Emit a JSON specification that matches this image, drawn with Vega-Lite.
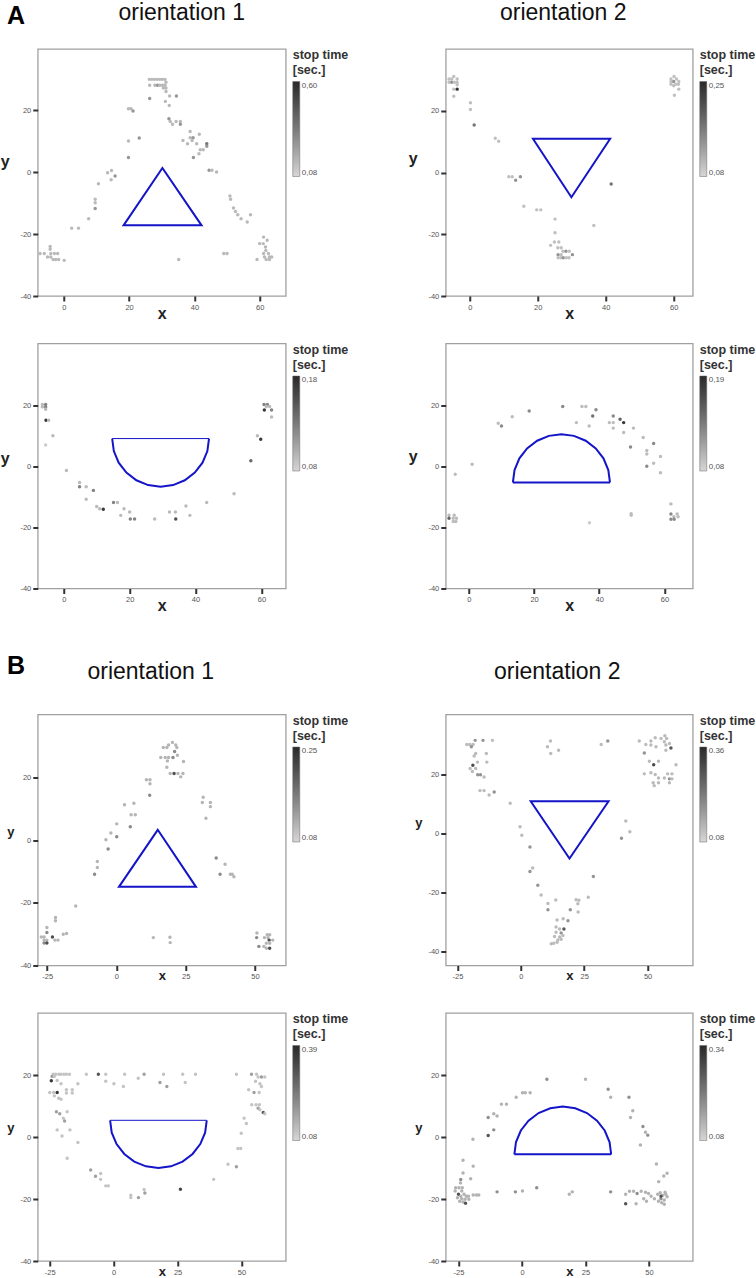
{
"$schema": "https://vega.github.io/schema/vega-lite/v6.json",
"background": "white",
"autosize": {"type": "none"},
"padding": {"left": 37.75, "top": 49, "right": 718.25, "bottom": 1229},
"title": {"text": "A", "anchor": "start", "frame": "group", "fontSize": 25, "fontWeight": "bold", "color": "#000", "baseline": "alphabetic", "offset": 0, "dx": -30.75, "dy": 47.5},
"config": {
  "font": "Liberation Sans",
  "view": {"stroke": "#a0a0a0", "strokeWidth": 1.3},
  "axis": {"domain": false, "grid": false, "tickSize": 5, "tickWidth": 2, "tickColor": "#333", "labelFontSize": 7.5, "labelColor": "#555", "labelPadding": 2, "labelFlush": false, "titleFontWeight": "bold", "titleColor": "#222", "titleFontSize": 16},
  "axisX": {"titleBaseline": "alphabetic"},
  "axisY": {"titleAngle": 0, "titleAlign": "center", "titleBaseline": "alphabetic"},
  "legend": {"offset": 7, "padding": 0, "titleFontSize": 12.5, "titleFontWeight": "bold", "titleColor": "#333", "titleLineHeight": 15, "titlePadding": 5, "titleLimit": 300, "gradientLength": 95, "gradientThickness": 7, "labelFontSize": 8, "labelColor": "#555", "labelOffset": 4, "gradientStrokeColor": "#666", "gradientStrokeWidth": 0.5},
  "title": {"font": "Liberation Sans", "fontWeight": "normal", "color": "#111", "fontSize": 23}
},
"datasets": {
"a1": [{"x":26.2,"y":29.9,"t":0.16},{"x":27.0,"y":29.9,"t":0.16},{"x":27.8,"y":29.9,"t":0.16},{"x":28.6,"y":29.9,"t":0.16},{"x":29.4,"y":29.9,"t":0.16},{"x":30.2,"y":29.9,"t":0.16},{"x":31.0,"y":29.9,"t":0.16},{"x":31.3,"y":29.0,"t":0.16},
{"x":26.3,"y":28.0,"t":0.16},{"x":27.9,"y":28.0,"t":0.16},{"x":28.7,"y":28.0,"t":0.26},{"x":29.4,"y":28.0,"t":0.16},{"x":30.2,"y":28.0,"t":0.16},{"x":31.0,"y":28.0,"t":0.16},
{"x":30.5,"y":27.1,"t":0.16},{"x":31.3,"y":27.1,"t":0.16},{"x":31.3,"y":26.0,"t":0.16},{"x":32.4,"y":24.5,"t":0.16},{"x":34.5,"y":24.5,"t":0.26},{"x":26.3,"y":23.7,"t":0.26},{"x":31.1,"y":22.8,"t":0.16},{"x":32.3,"y":21.5,"t":0.16},
{"x":19.8,"y":20.4,"t":0.16},{"x":20.6,"y":20.4,"t":0.16},{"x":21.2,"y":19.7,"t":0.26},{"x":32.2,"y":17.2,"t":0.26},{"x":32.6,"y":16.3,"t":0.16},{"x":34.4,"y":16.3,"t":0.16},{"x":35.7,"y":16.3,"t":0.16},{"x":33.3,"y":15.4,"t":0.16},{"x":35.7,"y":15.4,"t":0.26},
{"x":38.7,"y":13.1,"t":0.16},{"x":41.5,"y":12.2,"t":0.16},{"x":38.7,"y":11.1,"t":0.16},{"x":39.6,"y":11.1,"t":0.26},{"x":23.1,"y":11.0,"t":0.26},{"x":36.5,"y":10.2,"t":0.16},{"x":39.3,"y":10.2,"t":0.16},{"x":19.8,"y":10.0,"t":0.16},
{"x":37.9,"y":9.1,"t":0.16},{"x":40.7,"y":9.1,"t":0.16},{"x":43.8,"y":9.1,"t":0.36},{"x":43.8,"y":8.3,"t":0.26},{"x":41.8,"y":7.2,"t":0.16},{"x":42.7,"y":7.2,"t":0.16},{"x":41.4,"y":5.9,"t":0.16},{"x":19.8,"y":4.7,"t":0.26},{"x":39.7,"y":4.7,"t":0.26},
{"x":44.5,"y":0.6,"t":0.26},{"x":45.4,"y":0.6,"t":0.16},{"x":46.8,"y":0.0,"t":0.16},{"x":14.6,"y":0.5,"t":0.16},{"x":13.4,"y":-0.2,"t":0.16},{"x":15.7,"y":-1.3,"t":0.26},{"x":14.5,"y":-2.5,"t":0.16},{"x":10.6,"y":-3.8,"t":0.16},
{"x":50.9,"y":-7.7,"t":0.16},{"x":9.6,"y":-8.8,"t":0.16},{"x":51.1,"y":-8.8,"t":0.16},{"x":9.6,"y":-9.9,"t":0.16},{"x":52.0,"y":-11.6,"t":0.16},{"x":9.6,"y":-11.8,"t":0.26},{"x":52.6,"y":-12.7,"t":0.16},{"x":53.3,"y":-13.8,"t":0.16},{"x":57.2,"y":-13.8,"t":0.16},
{"x":7.6,"y":-15.1,"t":0.16},{"x":54.3,"y":-15.1,"t":0.16},{"x":56.2,"y":-16.1,"t":0.16},{"x":2.4,"y":-18.1,"t":0.16},{"x":4.5,"y":-18.1,"t":0.16},
{"x":61.2,"y":-21.0,"t":0.16},{"x":62.3,"y":-22.0,"t":0.16},{"x":60.0,"y":-23.1,"t":0.16},{"x":61.1,"y":-23.1,"t":0.16},{"x":61.8,"y":-24.2,"t":0.16},{"x":61.9,"y":-25.3,"t":0.16},
{"x":-7.3,"y":-26.3,"t":0.16},{"x":-6.0,"y":-26.3,"t":0.16},{"x":-4.0,"y":-26.3,"t":0.16},{"x":-2.9,"y":-26.3,"t":0.16},{"x":-1.9,"y":-26.3,"t":0.16},{"x":49.0,"y":-26.3,"t":0.16},{"x":50.0,"y":-26.3,"t":0.16},{"x":61.2,"y":-26.3,"t":0.16},{"x":62.7,"y":-26.3,"t":0.16},
{"x":-4.2,"y":-24.9,"t":0.16},{"x":-4.2,"y":-24.0,"t":0.16},
{"x":-5.0,"y":-27.4,"t":0.16},{"x":-4.0,"y":-27.4,"t":0.16},{"x":61.5,"y":-27.4,"t":0.16},{"x":63.0,"y":-27.4,"t":0.16},{"x":63.7,"y":-27.4,"t":0.16},
{"x":-3.3,"y":-28.2,"t":0.16},{"x":-2.5,"y":-28.2,"t":0.16},{"x":-1.6,"y":-28.2,"t":0.16},{"x":35.2,"y":-28.2,"t":0.16},{"x":59.2,"y":-28.2,"t":0.16},{"x":62.0,"y":-28.2,"t":0.16},{"x":63.0,"y":-28.2,"t":0.16},{"x":0.1,"y":-28.5,"t":0.16}],
"a2": [{"x":-4.7,"y":31.1,"t":0.1},{"x":-6.1,"y":30.3,"t":0.1},{"x":-5.3,"y":30.3,"t":0.1},{"x":-3.7,"y":30.3,"t":0.1},{"x":-6.1,"y":29.2,"t":0.1},{"x":-5.3,"y":29.2,"t":0.14},{"x":-4.5,"y":29.2,"t":0.1},{"x":-3.7,"y":29.2,"t":0.1},{"x":-3.7,"y":28.4,"t":0.1},{"x":-4.7,"y":27.0,"t":0.1},{"x":-3.7,"y":27.0,"t":0.24},{"x":-4.7,"y":24.7,"t":0.1},
{"x":0.2,"y":22.6,"t":0.1},{"x":0.2,"y":20.4,"t":0.1},{"x":1.3,"y":15.4,"t":0.17},{"x":7.5,"y":11.1,"t":0.1},{"x":8.5,"y":10.1,"t":0.1},
{"x":11.5,"y":-1.4,"t":0.1},{"x":12.5,"y":-1.4,"t":0.1},{"x":13.5,"y":-2.5,"t":0.14},{"x":14.9,"y":-1.4,"t":0.14},{"x":41.6,"y":-3.7,"t":0.17},
{"x":15.9,"y":-10.9,"t":0.1},{"x":19.7,"y":-12.1,"t":0.1},{"x":20.9,"y":-12.1,"t":0.1},{"x":25.1,"y":-15.1,"t":0.1},{"x":36.5,"y":-17.2,"t":0.1},{"x":25.1,"y":-19.5,"t":0.1},
{"x":24.9,"y":-22.5,"t":0.1},{"x":26.2,"y":-22.5,"t":0.1},{"x":23.8,"y":-23.6,"t":0.1},{"x":25.9,"y":-24.4,"t":0.1},{"x":26.9,"y":-24.4,"t":0.1},
{"x":27.4,"y":-25.5,"t":0.1},{"x":28.3,"y":-25.5,"t":0.14},{"x":29.3,"y":-25.5,"t":0.1},{"x":26.0,"y":-26.6,"t":0.14},{"x":26.9,"y":-26.6,"t":0.1},{"x":30.2,"y":-26.6,"t":0.14},
{"x":26.0,"y":-27.6,"t":0.1},{"x":26.8,"y":-27.6,"t":0.1},{"x":27.5,"y":-27.6,"t":0.14},{"x":28.4,"y":-27.6,"t":0.1},{"x":29.2,"y":-27.6,"t":0.1},
{"x":60.1,"y":31.1,"t":0.1},{"x":59.2,"y":30.3,"t":0.1},{"x":60.8,"y":30.3,"t":0.1},{"x":59.2,"y":29.5,"t":0.1},{"x":60.0,"y":29.5,"t":0.14},{"x":61.5,"y":29.5,"t":0.1},{"x":59.2,"y":28.6,"t":0.1},{"x":60.6,"y":28.6,"t":0.1},{"x":61.4,"y":28.6,"t":0.1},{"x":60.0,"y":28.1,"t":0.1},{"x":61.5,"y":27.0,"t":0.1},{"x":60.2,"y":25.0,"t":0.1}],
"a3": [{"x":-6.5,"y":20.4,"t":0.095},{"x":-5.5,"y":20.4,"t":0.125},{"x":-6.5,"y":19.6,"t":0.095},{"x":-5.5,"y":19.6,"t":0.125},{"x":-5.5,"y":18.8,"t":0.095},
{"x":-5.4,"y":15.2,"t":0.17},{"x":-4.6,"y":15.2,"t":0.095},{"x":-3.3,"y":10.1,"t":0.095},{"x":-5.5,"y":7.1,"t":0.085},{"x":0.8,"y":-1.3,"t":0.095},
{"x":4.8,"y":-5.2,"t":0.095},{"x":4.8,"y":-6.6,"t":0.125},{"x":6.8,"y":-6.6,"t":0.095},{"x":9.0,"y":-7.8,"t":0.125},{"x":6.8,"y":-10.7,"t":0.095},
{"x":10.0,"y":-13.1,"t":0.095},{"x":10.9,"y":-13.8,"t":0.095},{"x":12.0,"y":-14.0,"t":0.17},{"x":15.1,"y":-11.8,"t":0.125},{"x":16.3,"y":-11.8,"t":0.095},
{"x":18.3,"y":-13.8,"t":0.095},{"x":20.0,"y":-14.9,"t":0.095},{"x":17.3,"y":-16.0,"t":0.095},{"x":20.2,"y":-17.2,"t":0.125},{"x":21.5,"y":-17.2,"t":0.125},{"x":27.6,"y":-17.2,"t":0.095},
{"x":32.1,"y":-14.9,"t":0.095},{"x":33.9,"y":-14.9,"t":0.095},{"x":34.0,"y":-17.2,"t":0.155},{"x":37.1,"y":-12.9,"t":0.095},{"x":38.3,"y":-16.0,"t":0.095},{"x":43.4,"y":-11.8,"t":0.095},{"x":51.7,"y":-8.9,"t":0.095},
{"x":56.8,"y":1.9,"t":0.14},{"x":58.8,"y":10.1,"t":0.095},{"x":59.8,"y":9.0,"t":0.17},
{"x":60.8,"y":20.4,"t":0.125},{"x":61.8,"y":20.4,"t":0.125},{"x":61.5,"y":19.7,"t":0.095},{"x":62.5,"y":19.7,"t":0.095},{"x":60.9,"y":18.6,"t":0.17},{"x":63.1,"y":18.6,"t":0.125},{"x":63.1,"y":16.3,"t":0.095}],
"a4": [{"x":28.8,"y":19.6,"t":0.125},{"x":34.7,"y":19.6,"t":0.095},{"x":35.9,"y":19.6,"t":0.095},{"x":18.5,"y":18.1,"t":0.125},{"x":39.0,"y":18.5,"t":0.125},
{"x":38.0,"y":16.5,"t":0.14},{"x":44.3,"y":16.5,"t":0.125},{"x":13.3,"y":16.2,"t":0.095},{"x":46.4,"y":15.4,"t":0.15},
{"x":33.0,"y":14.3,"t":0.095},{"x":43.1,"y":14.3,"t":0.095},{"x":44.3,"y":14.3,"t":0.095},{"x":47.5,"y":14.3,"t":0.18},
{"x":9.0,"y":14.1,"t":0.095},{"x":10.0,"y":13.2,"t":0.125},{"x":36.9,"y":13.2,"t":0.095},{"x":44.3,"y":12.5,"t":0.095},{"x":50.5,"y":12.5,"t":0.095},{"x":47.5,"y":11.1,"t":0.095},
{"x":53.5,"y":9.4,"t":0.095},{"x":56.7,"y":7.5,"t":0.125},{"x":49.6,"y":6.3,"t":0.125},{"x":54.6,"y":5.2,"t":0.095},{"x":54.6,"y":4.0,"t":0.095},{"x":58.8,"y":3.2,"t":0.095},{"x":56.7,"y":1.0,"t":0.095},{"x":1.0,"y":0.7,"t":0.095},{"x":54.6,"y":0.0,"t":0.125},{"x":58.8,"y":-2.1,"t":0.095},{"x":-4.2,"y":-2.6,"t":0.095},
{"x":62.0,"y":-12.3,"t":0.095},{"x":49.8,"y":-15.5,"t":0.095},{"x":49.8,"y":-16.0,"t":0.095},{"x":62.0,"y":-15.6,"t":0.125},{"x":63.9,"y":-15.6,"t":0.095},{"x":62.9,"y":-16.5,"t":0.095},{"x":64.2,"y":-16.5,"t":0.095},{"x":62.0,"y":-17.3,"t":0.125},{"x":63.0,"y":-17.3,"t":0.125},{"x":37.0,"y":-18.5,"t":0.085},
{"x":-6.1,"y":-16.0,"t":0.095},{"x":-4.5,"y":-16.0,"t":0.095},{"x":-6.1,"y":-17.0,"t":0.15},{"x":-4.8,"y":-17.0,"t":0.095},{"x":-3.8,"y":-17.0,"t":0.095},{"x":-4.8,"y":-18.1,"t":0.095},{"x":-4.0,"y":-18.1,"t":0.095}],
"b1": [{"x":20.2,"y":31.2,"t":0.11},{"x":18.8,"y":30.4,"t":0.11},{"x":21.4,"y":30.4,"t":0.11},{"x":16.9,"y":29.6,"t":0.11},{"x":18.2,"y":29.6,"t":0.11},{"x":21.8,"y":29.6,"t":0.11},{"x":21.0,"y":28.3,"t":0.15},{"x":22.0,"y":27.1,"t":0.11},{"x":16.0,"y":26.4,"t":0.11},{"x":17.6,"y":26.4,"t":0.11},{"x":18.8,"y":26.4,"t":0.11},{"x":20.4,"y":26.4,"t":0.15},{"x":18.4,"y":25.3,"t":0.11},{"x":24.2,"y":25.1,"t":0.11},{"x":18.2,"y":23.3,"t":0.11},{"x":19.4,"y":21.3,"t":0.11},{"x":20.8,"y":21.3,"t":0.21},{"x":22.2,"y":21.3,"t":0.11},{"x":24.0,"y":21.3,"t":0.11},{"x":23.2,"y":20.2,"t":0.11},
{"x":10.8,"y":19.3,"t":0.11},{"x":12.1,"y":19.3,"t":0.11},{"x":12.1,"y":18.0,"t":0.11},{"x":12.0,"y":14.3,"t":0.15},
{"x":31.3,"y":13.7,"t":0.11},{"x":31.0,"y":12.0,"t":0.11},{"x":33.9,"y":12.0,"t":0.11},{"x":33.9,"y":10.7,"t":0.11},{"x":32.3,"y":7.0,"t":0.11},
{"x":2.9,"y":11.3,"t":0.11},{"x":6.3,"y":11.8,"t":0.11},{"x":5.3,"y":8.1,"t":0.11},{"x":6.8,"y":8.1,"t":0.11},{"x":5.0,"y":4.3,"t":0.15},{"x":0.1,"y":5.2,"t":0.11},{"x":-2.0,"y":2.3,"t":0.11},{"x":0.1,"y":1.1,"t":0.15},{"x":-3.8,"y":0.1,"t":0.11},{"x":-3.0,"y":-2.8,"t":0.15},
{"x":36.0,"y":-5.7,"t":0.15},{"x":39.2,"y":-7.7,"t":0.11},{"x":37.4,"y":-10.9,"t":0.15},{"x":41.1,"y":-10.9,"t":0.11},{"x":41.8,"y":-10.9,"t":0.11},{"x":42.4,"y":-11.7,"t":0.11},
{"x":-6.9,"y":-6.8,"t":0.11},{"x":-6.9,"y":-8.7,"t":0.11},{"x":-7.9,"y":-10.9,"t":0.15},{"x":-14.7,"y":-21.0,"t":0.11},
{"x":-22.0,"y":-24.7,"t":0.11},{"x":-22.0,"y":-25.7,"t":0.11},{"x":-25.1,"y":-27.9,"t":0.11},{"x":-25.1,"y":-29.5,"t":0.15},{"x":-18.0,"y":-29.8,"t":0.11},{"x":-19.2,"y":-30.0,"t":0.11},{"x":-27.1,"y":-30.9,"t":0.11},{"x":-26.1,"y":-30.9,"t":0.11},{"x":-23.1,"y":-30.9,"t":0.21},{"x":-26.1,"y":-31.9,"t":0.11},{"x":-25.1,"y":-31.9,"t":0.11},{"x":-22.2,"y":-31.9,"t":0.11},{"x":-21.1,"y":-31.9,"t":0.11},{"x":-26.1,"y":-32.8,"t":0.15},{"x":-25.1,"y":-32.8,"t":0.21},
{"x":13.3,"y":-31.1,"t":0.11},{"x":19.3,"y":-31.0,"t":0.11},{"x":19.4,"y":-32.7,"t":0.11},
{"x":50.7,"y":-29.6,"t":0.11},{"x":54.4,"y":-30.2,"t":0.11},{"x":55.3,"y":-30.2,"t":0.11},{"x":50.6,"y":-31.1,"t":0.15},{"x":53.4,"y":-31.1,"t":0.11},{"x":54.7,"y":-31.1,"t":0.11},{"x":55.1,"y":-31.9,"t":0.21},{"x":56.4,"y":-31.9,"t":0.11},{"x":54.1,"y":-32.9,"t":0.11},{"x":55.3,"y":-32.9,"t":0.11},{"x":51.4,"y":-33.9,"t":0.15},{"x":53.2,"y":-33.9,"t":0.11},{"x":54.1,"y":-34.5,"t":0.11},{"x":55.3,"y":-34.5,"t":0.21}],
"b2": [{"x":-18.0,"y":31.7,"t":0.18},{"x":-14.9,"y":31.7,"t":0.18},{"x":-11.2,"y":31.7,"t":0.12},{"x":-21.3,"y":30.3,"t":0.12},{"x":-20.1,"y":30.3,"t":0.12},{"x":-18.8,"y":30.3,"t":0.12},{"x":-19.5,"y":29.5,"t":0.18},{"x":-17.8,"y":27.2,"t":0.12},{"x":-13.6,"y":27.2,"t":0.12},{"x":-18.4,"y":26.4,"t":0.12},{"x":-17.1,"y":24.3,"t":0.12},{"x":-13.4,"y":24.3,"t":0.12},{"x":-18.9,"y":23.2,"t":0.3},{"x":-20.0,"y":22.1,"t":0.12},{"x":-17.8,"y":22.1,"t":0.12},{"x":-19.1,"y":21.1,"t":0.12},{"x":-17.0,"y":20.0,"t":0.18},{"x":-15.9,"y":20.0,"t":0.18},{"x":-14.5,"y":19.2,"t":0.12},{"x":-16.1,"y":14.6,"t":0.12},{"x":-14.5,"y":14.6,"t":0.12},{"x":-10.5,"y":14.1,"t":0.18},{"x":-12.5,"y":13.1,"t":0.12},{"x":-4.2,"y":10.3,"t":0.12},
{"x":11.7,"y":31.5,"t":0.12},{"x":10.5,"y":29.5,"t":0.12},{"x":14.9,"y":28.3,"t":0.12},{"x":11.8,"y":27.2,"t":0.12},{"x":31.7,"y":30.3,"t":0.12},{"x":34.3,"y":31.5,"t":0.18},
{"x":46.7,"y":31.5,"t":0.12},{"x":51.3,"y":31.5,"t":0.12},{"x":53.0,"y":32.6,"t":0.12},{"x":55.3,"y":32.3,"t":0.12},{"x":56.8,"y":33.3,"t":0.12},{"x":57.5,"y":32.3,"t":0.12},{"x":56.6,"y":31.2,"t":0.12},{"x":58.6,"y":30.6,"t":0.12},{"x":57.2,"y":30.1,"t":0.12},{"x":53.3,"y":29.5,"t":0.12},{"x":51.3,"y":30.1,"t":0.12},{"x":49.3,"y":30.3,"t":0.12},{"x":48.7,"y":27.4,"t":0.18},{"x":50.7,"y":24.6,"t":0.12},{"x":52.4,"y":23.4,"t":0.3},{"x":54.3,"y":24.6,"t":0.12},{"x":57.2,"y":28.3,"t":0.12},{"x":59.2,"y":29.1,"t":0.28},{"x":61.2,"y":23.4,"t":0.12},{"x":48.7,"y":20.3,"t":0.12},{"x":51.3,"y":20.7,"t":0.12},{"x":53.0,"y":20.1,"t":0.12},{"x":54.3,"y":18.9,"t":0.12},{"x":52.2,"y":17.3,"t":0.12},{"x":52.6,"y":16.3,"t":0.12},{"x":54.3,"y":17.3,"t":0.12},{"x":56.6,"y":18.9,"t":0.12},{"x":57.9,"y":20.3,"t":0.12},{"x":59.6,"y":20.3,"t":0.12},{"x":58.6,"y":18.6,"t":0.18},{"x":59.6,"y":18.6,"t":0.12},{"x":58.6,"y":17.3,"t":0.12},
{"x":41.4,"y":4.3,"t":0.12},{"x":43.0,"y":0.6,"t":0.12},{"x":39.7,"y":-1.6,"t":0.18},
{"x":-0.3,"y":2.3,"t":0.12},{"x":0.4,"y":-0.6,"t":0.12},{"x":3.6,"y":-4.6,"t":0.18},
{"x":4.7,"y":-11.7,"t":0.12},{"x":3.6,"y":-12.9,"t":0.18},{"x":6.7,"y":-17.6,"t":0.18},{"x":8.0,"y":-20.9,"t":0.12},{"x":10.7,"y":-23.8,"t":0.12},{"x":13.8,"y":-22.6,"t":0.12},{"x":10.7,"y":-25.9,"t":0.18},{"x":28.6,"y":-14.6,"t":0.18},{"x":21.8,"y":-22.5,"t":0.12},{"x":22.9,"y":-22.7,"t":0.12},{"x":22.5,"y":-23.9,"t":0.12},{"x":26.6,"y":-21.7,"t":0.12},{"x":19.5,"y":-25.9,"t":0.18},{"x":22.6,"y":-26.7,"t":0.12},{"x":14.3,"y":-29.4,"t":0.12},{"x":16.7,"y":-29.0,"t":0.12},{"x":18.6,"y":-29.7,"t":0.18},{"x":13.9,"y":-31.8,"t":0.12},{"x":15.3,"y":-32.5,"t":0.12},{"x":17.0,"y":-32.5,"t":0.28},{"x":13.9,"y":-33.6,"t":0.12},{"x":15.9,"y":-33.8,"t":0.18},{"x":13.3,"y":-35.0,"t":0.12},{"x":15.3,"y":-35.2,"t":0.12},{"x":16.6,"y":-34.7,"t":0.12},{"x":14.6,"y":-36.2,"t":0.12},{"x":15.9,"y":-36.0,"t":0.12},{"x":12.0,"y":-37.5,"t":0.12},{"x":13.0,"y":-37.3,"t":0.12},{"x":14.3,"y":-37.0,"t":0.12}],
"b3": [{"x":-23.7,"y":20.4,"t":0.11},{"x":-22.7,"y":20.4,"t":0.11},{"x":-21.5,"y":20.4,"t":0.11},{"x":-20.6,"y":20.4,"t":0.11},{"x":-19.5,"y":20.4,"t":0.11},{"x":-18.5,"y":20.4,"t":0.11},{"x":-17.3,"y":20.4,"t":0.11},{"x":-10.7,"y":20.4,"t":0.11},{"x":-6.0,"y":20.4,"t":0.3},{"x":-3.1,"y":20.4,"t":0.11},{"x":4.3,"y":20.4,"t":0.11},{"x":11.9,"y":20.4,"t":0.17},{"x":19.5,"y":20.4,"t":0.11},{"x":27.0,"y":20.4,"t":0.11},{"x":32.0,"y":20.4,"t":0.11},{"x":48.0,"y":20.4,"t":0.11},{"x":53.9,"y":20.4,"t":0.17},{"x":55.9,"y":20.4,"t":0.11},
{"x":-24.1,"y":19.7,"t":0.17},{"x":-23.2,"y":19.7,"t":0.11},{"x":56.5,"y":19.5,"t":0.11},{"x":57.8,"y":19.5,"t":0.17},{"x":59.1,"y":19.5,"t":0.11},
{"x":-24.4,"y":18.3,"t":0.36},{"x":-22.1,"y":18.4,"t":0.11},{"x":-20.6,"y":17.3,"t":0.11},{"x":-14.0,"y":17.3,"t":0.11},{"x":-3.1,"y":18.1,"t":0.11},{"x":0.1,"y":17.3,"t":0.11},{"x":9.6,"y":19.1,"t":0.11},{"x":3.8,"y":16.4,"t":0.11},{"x":18.1,"y":17.7,"t":0.17},{"x":20.8,"y":16.4,"t":0.17},{"x":28.0,"y":17.7,"t":0.11},{"x":55.5,"y":18.1,"t":0.11},{"x":57.2,"y":17.3,"t":0.11},{"x":57.8,"y":16.4,"t":0.11},{"x":52.8,"y":15.4,"t":0.11},{"x":54.9,"y":14.5,"t":0.17},{"x":56.9,"y":14.5,"t":0.11},
{"x":-18.5,"y":15.4,"t":0.11},{"x":-16.2,"y":15.4,"t":0.11},{"x":-18.5,"y":14.3,"t":0.11},{"x":-16.2,"y":14.3,"t":0.11},{"x":-25.0,"y":14.5,"t":0.11},{"x":-23.5,"y":14.5,"t":0.11},{"x":-22.1,"y":14.5,"t":0.36},{"x":-23.2,"y":13.4,"t":0.11},{"x":-21.5,"y":12.6,"t":0.11},{"x":-20.6,"y":12.3,"t":0.11},
{"x":54.0,"y":10.5,"t":0.11},{"x":55.7,"y":10.5,"t":0.11},{"x":57.0,"y":10.5,"t":0.11},{"x":56.5,"y":9.4,"t":0.17},{"x":57.2,"y":8.9,"t":0.11},{"x":58.5,"y":8.0,"t":0.3},{"x":59.1,"y":7.6,"t":0.11},
{"x":-22.4,"y":8.3,"t":0.17},{"x":-21.1,"y":7.6,"t":0.17},{"x":-18.2,"y":8.3,"t":0.11},{"x":-19.7,"y":6.2,"t":0.11},{"x":-19.2,"y":5.3,"t":0.17},{"x":51.0,"y":6.2,"t":0.11},{"x":51.9,"y":4.5,"t":0.11},{"x":-22.1,"y":2.4,"t":0.11},{"x":-17.1,"y":2.4,"t":0.11},{"x":-20.2,"y":0.4,"t":0.11},{"x":49.9,"y":1.3,"t":0.11},{"x":-14.0,"y":-1.7,"t":0.11},{"x":48.6,"y":-3.6,"t":0.11},{"x":49.7,"y":-3.6,"t":0.11},{"x":-18.2,"y":-6.8,"t":0.11},{"x":44.7,"y":-8.7,"t":0.11},{"x":48.0,"y":-9.5,"t":0.17},
{"x":-9.0,"y":-10.6,"t":0.17},{"x":-7.1,"y":-12.6,"t":0.17},{"x":-5.1,"y":-11.7,"t":0.11},{"x":-5.1,"y":-13.6,"t":0.11},{"x":-3.1,"y":-15.7,"t":0.11},{"x":-2.1,"y":-15.7,"t":0.11},{"x":39.1,"y":-13.6,"t":0.11},{"x":26.1,"y":-16.8,"t":0.33},{"x":11.9,"y":-16.9,"t":0.11},{"x":12.2,"y":-18.0,"t":0.17},{"x":6.7,"y":-18.7,"t":0.11},{"x":9.7,"y":-19.5,"t":0.17},{"x":6.7,"y":-19.5,"t":0.11}],
"b4": [{"x":9.8,"y":18.6,"t":0.18},{"x":25.0,"y":18.6,"t":0.13},{"x":33.9,"y":15.4,"t":0.18},{"x":34.9,"y":12.8,"t":0.13},{"x":0.2,"y":14.3,"t":0.13},{"x":1.3,"y":14.3,"t":0.13},{"x":3.2,"y":14.3,"t":0.13},{"x":-2.3,"y":12.8,"t":0.13},{"x":-8.1,"y":10.6,"t":0.13},{"x":-6.1,"y":10.6,"t":0.13},{"x":-11.1,"y":7.5,"t":0.13},{"x":-9.8,"y":6.8,"t":0.13},{"x":-13.3,"y":6.3,"t":0.18},{"x":-11.1,"y":2.3,"t":0.18},{"x":-13.3,"y":0.5,"t":0.27},{"x":-19.3,"y":-0.7,"t":0.13},
{"x":42.1,"y":12.8,"t":0.18},{"x":43.6,"y":8.5,"t":0.13},{"x":42.7,"y":6.3,"t":0.13},{"x":47.6,"y":3.4,"t":0.18},{"x":48.6,"y":1.5,"t":0.13},{"x":49.5,"y":0.6,"t":0.18},{"x":46.6,"y":-2.6,"t":0.13},{"x":52.9,"y":-8.7,"t":0.13},{"x":57.1,"y":-11.7,"t":0.13},{"x":55.8,"y":-12.6,"t":0.13},{"x":53.8,"y":-14.4,"t":0.13},
{"x":-23.2,"y":-7.5,"t":0.13},{"x":-19.2,"y":-9.4,"t":0.13},{"x":-23.2,"y":-11.6,"t":0.13},{"x":-20.2,"y":-13.5,"t":0.13},{"x":-24.1,"y":-13.7,"t":0.18},{"x":-24.2,"y":-14.8,"t":0.13},{"x":-26.1,"y":-16.4,"t":0.13},{"x":-24.8,"y":-16.4,"t":0.13},{"x":-23.5,"y":-16.4,"t":0.13},{"x":-26.3,"y":-17.4,"t":0.13},{"x":-23.7,"y":-17.4,"t":0.13},{"x":-19.2,"y":-18.7,"t":0.13},{"x":-17.9,"y":-18.7,"t":0.13},{"x":-17.0,"y":-18.7,"t":0.13},{"x":-9.8,"y":-17.7,"t":0.18},{"x":-2.6,"y":-17.7,"t":0.18},{"x":0.2,"y":-17.4,"t":0.13},{"x":5.8,"y":-16.4,"t":0.18},{"x":18.6,"y":-18.5,"t":0.13},{"x":19.8,"y":-17.7,"t":0.13},{"x":34.9,"y":-17.7,"t":0.18},
{"x":-25.0,"y":-18.5,"t":0.27},{"x":-24.1,"y":-19.1,"t":0.13},{"x":-22.8,"y":-18.5,"t":0.13},{"x":-21.9,"y":-19.1,"t":0.13},{"x":-25.4,"y":-19.6,"t":0.13},{"x":-23.7,"y":-19.9,"t":0.13},{"x":-22.4,"y":-20.1,"t":0.13},{"x":-24.5,"y":-20.7,"t":0.13},{"x":-23.2,"y":-21.0,"t":0.13},{"x":-22.2,"y":-21.4,"t":0.27},{"x":-21.1,"y":-19.1,"t":0.13},{"x":-20.9,"y":-20.1,"t":0.13},
{"x":40.8,"y":-18.5,"t":0.13},{"x":42.3,"y":-17.5,"t":0.13},{"x":43.9,"y":-17.5,"t":0.13},{"x":45.3,"y":-18.2,"t":0.18},{"x":46.9,"y":-17.5,"t":0.13},{"x":48.6,"y":-17.8,"t":0.13},{"x":49.8,"y":-18.2,"t":0.13},{"x":50.8,"y":-19.1,"t":0.13},{"x":52.1,"y":-19.9,"t":0.13},{"x":53.4,"y":-18.5,"t":0.13},{"x":54.4,"y":-18.0,"t":0.13},{"x":55.4,"y":-18.8,"t":0.13},{"x":56.3,"y":-17.8,"t":0.13},{"x":57.1,"y":-19.3,"t":0.13},{"x":56.0,"y":-20.3,"t":0.13},{"x":54.7,"y":-19.9,"t":0.18},{"x":53.7,"y":-20.7,"t":0.13},{"x":55.0,"y":-21.2,"t":0.13},{"x":56.0,"y":-21.7,"t":0.13},{"x":49.0,"y":-20.7,"t":0.13},{"x":47.9,"y":-19.9,"t":0.13},{"x":44.9,"y":-21.5,"t":0.13},{"x":40.8,"y":-21.5,"t":0.27},{"x":54.7,"y":-19.1,"t":0.27},{"x":56.6,"y":-18.5,"t":0.13}],
"sa1": [{"i":0,"x":18.3,"y":-17.2},{"i":1,"x":30.2,"y":1.3},{"i":2,"x":42.2,"y":-17.2},{"i":3,"x":18.3,"y":-17.2},{"i":4,"x":30.2,"y":1.3}],
"sa2": [{"i":0,"x":18.6,"y":10.9},{"i":1,"x":41.3,"y":10.9},{"i":2,"x":29.9,"y":-8.0},{"i":3,"x":18.6,"y":10.9},{"i":4,"x":41.3,"y":10.9}],
"sb1": [{"i":0,"x":0.9,"y":-14.9},{"i":1,"x":14.9,"y":3.3},{"i":2,"x":28.7,"y":-14.9},{"i":3,"x":0.9,"y":-14.9},{"i":4,"x":14.9,"y":3.3}],
"sb2": [{"i":0,"x":3.9,"y":11.0},{"i":1,"x":34.6,"y":11.0},{"i":2,"x":19.2,"y":-8.5},{"i":3,"x":3.9,"y":11.0},{"i":4,"x":34.6,"y":11.0}],
"arca3": [{"i":0,"x":44.1,"y":9.2},{"i":1,"x":43.6,"y":5.11},{"i":2,"x":42.13,"y":1.3},{"i":3,"x":39.79,"y":-1.97},{"i":4,"x":36.75,"y":-4.48},{"i":5,"x":33.2,"y":-6.06},{"i":6,"x":29.4,"y":-6.6},{"i":7,"x":25.6,"y":-6.06},{"i":8,"x":22.05,"y":-4.48},{"i":9,"x":19.01,"y":-1.97},{"i":10,"x":16.67,"y":1.3},{"i":11,"x":15.2,"y":5.11},{"i":12,"x":14.7,"y":9.2}],
"diaa3": [{"i":0,"x":14.7,"y":9.2},{"i":1,"x":44.1,"y":9.2}],
"arca4": [{"i":0,"x":43.3,"y":-5.3},{"i":1,"x":42.79,"y":-1.21},{"i":2,"x":41.3,"y":2.6},{"i":3,"x":38.94,"y":5.87},{"i":4,"x":35.85,"y":8.38},{"i":5,"x":32.26,"y":9.96},{"i":6,"x":28.4,"y":10.5},{"i":7,"x":24.54,"y":9.96},{"i":8,"x":20.95,"y":8.38},{"i":9,"x":17.86,"y":5.87},{"i":10,"x":15.5,"y":2.6},{"i":11,"x":14.01,"y":-1.21},{"i":12,"x":13.5,"y":-5.3}],
"diaa4": [{"i":0,"x":13.5,"y":-5.3},{"i":1,"x":43.3,"y":-5.3}],
"arcb3": [{"i":0,"x":36.4,"y":5.5},{"i":1,"x":35.76,"y":1.51},{"i":2,"x":33.87,"y":-2.2},{"i":3,"x":30.86,"y":-5.39},{"i":4,"x":26.95,"y":-7.84},{"i":5,"x":22.39,"y":-9.38},{"i":6,"x":17.5,"y":-9.9},{"i":7,"x":12.61,"y":-9.38},{"i":8,"x":8.05,"y":-7.84},{"i":9,"x":4.14,"y":-5.39},{"i":10,"x":1.13,"y":-2.2},{"i":11,"x":-0.76,"y":1.51},{"i":12,"x":-1.4,"y":5.5}],
"diab3": [{"i":0,"x":-1.4,"y":5.5},{"i":1,"x":36.4,"y":5.5}],
"arcb4": [{"i":0,"x":35.1,"y":-5.6},{"i":1,"x":34.45,"y":-1.61},{"i":2,"x":32.55,"y":2.1},{"i":3,"x":29.52,"y":5.29},{"i":4,"x":25.58,"y":7.74},{"i":5,"x":20.98,"y":9.28},{"i":6,"x":16.05,"y":9.8},{"i":7,"x":11.12,"y":9.28},{"i":8,"x":6.52,"y":7.74},{"i":9,"x":2.58,"y":5.29},{"i":10,"x":-0.45,"y":2.1},{"i":11,"x":-2.35,"y":-1.61},{"i":12,"x":-3.0,"y":-5.6}],
"diab4": [{"i":0,"x":-3.0,"y":-5.6},{"i":1,"x":35.1,"y":-5.6}]
},
"columns": 2,
"bounds": "flush",
"align": "each",
"spacing": {"row": 47.5, "column": 160},
"resolve": {"scale": {"x": "independent", "y": "independent", "color": "independent"}, "legend": {"color": "independent"}, "axis": {"x": "independent", "y": "independent"}},
"concat": [
   {"width": 248, "height": 247,
    "title": {"text": "orientation 1", "anchor": "middle", "frame": "group", "baseline": "alphabetic", "offset": 6, "dx": 20},
    "layer": [
     {"data": {"name": "a1"}, "mark": {"type": "circle", "size": 12, "opacity": 1},
      "encoding": {
       "x": {"field": "x", "type": "quantitative", "scale": {"domain": [-8, 68], "nice": false, "zero": false}, "axis": {"values": [0, 20, 40, 60], "title": "x", "titleY": 22, "labelExpr": "datum.value + ''"}},
       "y": {"field": "y", "type": "quantitative", "scale": {"domain": [-40, 39.7], "nice": false, "zero": false}, "axis": {"values": [-40, -20, 0, 20], "title": "y", "titleX": -33, "titleY": 117.5, "labelExpr": "datum.value + ''"}},
       "color": {"field": "t", "type": "quantitative", "scale": {"domain": [0.08, 0.6], "range": ["#d6d6d6", "#2a2a2a"]}, "legend": {"title": ["stop time", "[sec.]"], "values": [0.08, 0.6], "labelExpr": "replace(format(datum.value, '.2f'), '.', ',')"}}}},
     {"data": {"name": "sa1"}, "mark": {"type": "line", "color": "#1414c8", "strokeWidth": 2}, "encoding": {"x": {"field": "x", "type": "quantitative"}, "y": {"field": "y", "type": "quantitative"}, "order": {"field": "i", "type": "quantitative"}}}
    ]},
   {"width": 247, "height": 247,
    "title": {"text": "orientation 2", "anchor": "middle", "frame": "group", "baseline": "alphabetic", "offset": 6, "dx": -6},
    "layer": [
     {"data": {"name": "a2"}, "mark": {"type": "circle", "size": 12, "opacity": 1},
      "encoding": {
       "x": {"field": "x", "type": "quantitative", "scale": {"domain": [-7.06, 65.6], "nice": false, "zero": false}, "axis": {"values": [0, 20, 40, 60], "title": "x", "titleY": 22, "labelExpr": "datum.value + ''"}},
       "y": {"field": "y", "type": "quantitative", "scale": {"domain": [-40, 40], "nice": false, "zero": false}, "axis": {"values": [-40, -20, 0, 20], "title": "y", "titleX": -33, "titleY": 114.5, "labelExpr": "datum.value + ''"}},
       "color": {"field": "t", "type": "quantitative", "scale": {"domain": [0.08, 0.25], "range": ["#d6d6d6", "#2a2a2a"]}, "legend": {"title": ["stop time", "[sec.]"], "values": [0.08, 0.25], "labelExpr": "replace(format(datum.value, '.2f'), '.', ',')"}}}},
     {"data": {"name": "sa2"}, "mark": {"type": "line", "color": "#1414c8", "strokeWidth": 2}, "encoding": {"x": {"field": "x", "type": "quantitative"}, "y": {"field": "y", "type": "quantitative"}, "order": {"field": "i", "type": "quantitative"}}}
    ]},
   {"width": 248, "height": 245,
    "layer": [
     {"data": {"name": "a3"}, "mark": {"type": "circle", "size": 12, "opacity": 1},
      "encoding": {
       "x": {"field": "x", "type": "quantitative", "scale": {"domain": [-7.9, 67.4], "nice": false, "zero": false}, "axis": {"values": [0, 20, 40, 60], "title": "x", "titleY": 22, "labelExpr": "datum.value + ''"}},
       "y": {"field": "y", "type": "quantitative", "scale": {"domain": [-40, 40.4], "nice": false, "zero": false}, "axis": {"values": [-40, -20, 0, 20], "title": "y", "titleX": -33, "titleY": 120, "labelExpr": "datum.value + ''"}},
       "color": {"field": "t", "type": "quantitative", "scale": {"domain": [0.08, 0.18], "range": ["#d6d6d6", "#2a2a2a"]}, "legend": {"title": ["stop time", "[sec.]"], "values": [0.08, 0.18], "labelExpr": "replace(format(datum.value, '.2f'), '.', ',')"}}}},
     {"data": {"name": "arca3"}, "mark": {"type": "line", "color": "#1414c8", "strokeWidth": 2}, "encoding": {"x": {"field": "x", "type": "quantitative"}, "y": {"field": "y", "type": "quantitative"}, "order": {"field": "i", "type": "quantitative"}}},
     {"data": {"name": "diaa3"}, "mark": {"type": "line", "color": "#1414c8", "strokeWidth": 1}, "encoding": {"x": {"field": "x", "type": "quantitative"}, "y": {"field": "y", "type": "quantitative"}, "order": {"field": "i", "type": "quantitative"}}}
    ]},
   {"width": 247, "height": 245,
    "layer": [
     {"data": {"name": "a4"}, "mark": {"type": "circle", "size": 12, "opacity": 1},
      "encoding": {
       "x": {"field": "x", "type": "quantitative", "scale": {"domain": [-7.1, 68.7], "nice": false, "zero": false}, "axis": {"values": [0, 20, 40, 60], "title": "x", "titleY": 22, "labelExpr": "datum.value + ''"}},
       "y": {"field": "y", "type": "quantitative", "scale": {"domain": [-40, 40.2], "nice": false, "zero": false}, "axis": {"values": [-40, -20, 0, 20], "title": "y", "titleX": -33, "titleY": 118, "labelExpr": "datum.value + ''"}},
       "color": {"field": "t", "type": "quantitative", "scale": {"domain": [0.08, 0.19], "range": ["#d6d6d6", "#2a2a2a"]}, "legend": {"title": ["stop time", "[sec.]"], "values": [0.08, 0.19], "labelExpr": "replace(format(datum.value, '.2f'), '.', ',')"}}}},
     {"data": {"name": "arca4"}, "mark": {"type": "line", "color": "#1414c8", "strokeWidth": 2}, "encoding": {"x": {"field": "x", "type": "quantitative"}, "y": {"field": "y", "type": "quantitative"}, "order": {"field": "i", "type": "quantitative"}}},
     {"data": {"name": "diaa4"}, "mark": {"type": "line", "color": "#1414c8", "strokeWidth": 2}, "encoding": {"x": {"field": "x", "type": "quantitative"}, "y": {"field": "y", "type": "quantitative"}, "order": {"field": "i", "type": "quantitative"}}}
    ]},
   {"width": 248, "height": 31, "view": {"stroke": null},
    "title": {"text": "B", "anchor": "start", "frame": "group", "fontSize": 25, "fontWeight": "bold", "color": "#000", "baseline": "alphabetic", "offset": 0, "dx": -30.75, "dy": 62.5},
    "data": {"values": []}, "mark": {"type": "point", "opacity": 0}, "encoding": {}},
   {"width": 247, "height": 31, "view": {"stroke": null},
    "data": {"values": []}, "mark": {"type": "point", "opacity": 0}, "encoding": {}},
   {"width": 248, "height": 251,
    "title": {"text": "orientation 1", "anchor": "middle", "frame": "group", "baseline": "alphabetic", "offset": 13, "dx": -11},
    "layer": [
     {"data": {"name": "b1"}, "mark": {"type": "circle", "size": 12, "opacity": 1},
      "encoding": {
       "x": {"field": "x", "type": "quantitative", "scale": {"domain": [-28.4, 61.1], "nice": false, "zero": false}, "axis": {"values": [-25, 0, 25, 50], "title": "x", "titleFontSize": 13, "titleY": 14, "labelExpr": "datum.value + ''"}},
       "y": {"field": "y", "type": "quantitative", "scale": {"domain": [-40, 40.1], "nice": false, "zero": false}, "axis": {"values": [-40, -20, 0, 20], "title": "y", "titleFontSize": 13, "titleX": -27.5, "titleY": 121, "labelExpr": "datum.value + ''"}},
       "color": {"field": "t", "type": "quantitative", "scale": {"domain": [0.08, 0.25], "range": ["#d6d6d6", "#2a2a2a"]}, "legend": {"title": ["stop time", "[sec.]"], "values": [0.08, 0.25], "format": ".2f"}}}},
     {"data": {"name": "sb1"}, "mark": {"type": "line", "color": "#1414c8", "strokeWidth": 2}, "encoding": {"x": {"field": "x", "type": "quantitative"}, "y": {"field": "y", "type": "quantitative"}, "order": {"field": "i", "type": "quantitative"}}}
    ]},
   {"width": 247, "height": 251,
    "title": {"text": "orientation 2", "anchor": "middle", "frame": "group", "baseline": "alphabetic", "offset": 13, "dx": -12},
    "layer": [
     {"data": {"name": "b2"}, "mark": {"type": "circle", "size": 12, "opacity": 1},
      "encoding": {
       "x": {"field": "x", "type": "quantitative", "scale": {"domain": [-29.6, 67.8], "nice": false, "zero": false}, "axis": {"values": [-25, 0, 25, 50], "title": "x", "titleFontSize": 13, "titleY": 14, "labelExpr": "datum.value + ''"}},
       "y": {"field": "y", "type": "quantitative", "scale": {"domain": [-44.9, 40.5], "nice": false, "zero": false}, "axis": {"values": [-40, -20, 0, 20], "title": "y", "titleFontSize": 13, "titleX": -27.5, "titleY": 112, "labelExpr": "datum.value + ''"}},
       "color": {"field": "t", "type": "quantitative", "scale": {"domain": [0.08, 0.36], "range": ["#d6d6d6", "#2a2a2a"]}, "legend": {"title": ["stop time", "[sec.]"], "values": [0.08, 0.36], "format": ".2f"}}}},
     {"data": {"name": "sb2"}, "mark": {"type": "line", "color": "#1414c8", "strokeWidth": 2}, "encoding": {"x": {"field": "x", "type": "quantitative"}, "y": {"field": "y", "type": "quantitative"}, "order": {"field": "i", "type": "quantitative"}}}
    ]},
   {"width": 248, "height": 248,
    "layer": [
     {"data": {"name": "b3"}, "mark": {"type": "circle", "size": 12, "opacity": 1},
      "encoding": {
       "x": {"field": "x", "type": "quantitative", "scale": {"domain": [-29.7, 67.3], "nice": false, "zero": false}, "axis": {"values": [-25, 0, 25, 50], "title": "x", "titleFontSize": 13, "titleY": 14, "labelExpr": "datum.value + ''"}},
       "y": {"field": "y", "type": "quantitative", "scale": {"domain": [-40, 40.2], "nice": false, "zero": false}, "axis": {"values": [-40, -20, 0, 20], "title": "y", "titleFontSize": 13, "titleX": -27.5, "titleY": 118, "labelExpr": "datum.value + ''"}},
       "color": {"field": "t", "type": "quantitative", "scale": {"domain": [0.08, 0.39], "range": ["#d6d6d6", "#2a2a2a"]}, "legend": {"title": ["stop time", "[sec.]"], "values": [0.08, 0.39], "format": ".2f"}}}},
     {"data": {"name": "arcb3"}, "mark": {"type": "line", "color": "#1414c8", "strokeWidth": 2}, "encoding": {"x": {"field": "x", "type": "quantitative"}, "y": {"field": "y", "type": "quantitative"}, "order": {"field": "i", "type": "quantitative"}}},
     {"data": {"name": "diab3"}, "mark": {"type": "line", "color": "#1414c8", "strokeWidth": 1}, "encoding": {"x": {"field": "x", "type": "quantitative"}, "y": {"field": "y", "type": "quantitative"}, "order": {"field": "i", "type": "quantitative"}}}
    ]},
   {"width": 247, "height": 248,
    "layer": [
     {"data": {"name": "b4"}, "mark": {"type": "circle", "size": 12, "opacity": 1},
      "encoding": {
       "x": {"field": "x", "type": "quantitative", "scale": {"domain": [-30, 67.2], "nice": false, "zero": false}, "axis": {"values": [-25, 0, 25, 50], "title": "x", "titleFontSize": 13, "titleY": 14, "labelExpr": "datum.value + ''"}},
       "y": {"field": "y", "type": "quantitative", "scale": {"domain": [-40, 40], "nice": false, "zero": false}, "axis": {"values": [-40, -20, 0, 20], "title": "y", "titleFontSize": 13, "titleX": -27.5, "titleY": 118.5, "labelExpr": "datum.value + ''"}},
       "color": {"field": "t", "type": "quantitative", "scale": {"domain": [0.08, 0.34], "range": ["#d6d6d6", "#2a2a2a"]}, "legend": {"title": ["stop time", "[sec.]"], "values": [0.08, 0.34], "format": ".2f"}}}},
     {"data": {"name": "arcb4"}, "mark": {"type": "line", "color": "#1414c8", "strokeWidth": 2}, "encoding": {"x": {"field": "x", "type": "quantitative"}, "y": {"field": "y", "type": "quantitative"}, "order": {"field": "i", "type": "quantitative"}}},
     {"data": {"name": "diab4"}, "mark": {"type": "line", "color": "#1414c8", "strokeWidth": 2}, "encoding": {"x": {"field": "x", "type": "quantitative"}, "y": {"field": "y", "type": "quantitative"}, "order": {"field": "i", "type": "quantitative"}}}
    ]}
]
}
